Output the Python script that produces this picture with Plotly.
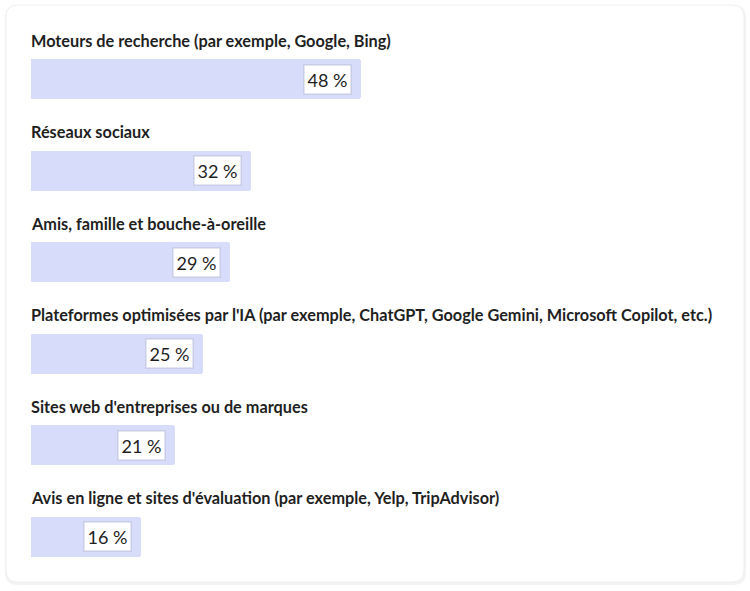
import plotly.graph_objects as go

categories = [
    "Moteurs de recherche (par exemple, Google, Bing)",
    "Réseaux sociaux",
    "Amis, famille et bouche-à-oreille",
    "Plateformes optimisées par l'IA (par exemple, ChatGPT, Google Gemini, Microsoft Copilot, etc.)",
    "Sites web d'entreprises ou de marques",
    "Avis en ligne et sites d'évaluation (par exemple, Yelp, TripAdvisor)",
]
values = [48, 32, 29, 25, 21, 16]
value_labels = [f"{v} %" for v in values]

W, H = 750, 591
FONT = "Lato"
TXT = "#1f1f1f"
BAR = "#d6dcfa"

ypos = list(range(len(categories)))

fig = go.Figure()
fig.add_trace(go.Bar(
    x=values, y=ypos, orientation="h",
    marker=dict(color=BAR, line=dict(width=0), cornerradius=3),
    width=0.437, hoverinfo="skip", showlegend=False,
))

annotations = []
for i, (c, v, lab) in enumerate(zip(categories, values, value_labels)):
    annotations.append(dict(
        x=31 / W, xref="paper", y=i, yref="y", yshift=39, xshift=-2,
        text=c, showarrow=False, xanchor="left", yanchor="middle",
        font=dict(family=FONT, size=16.3, color=TXT, weight=700),
    ))
    annotations.append(dict(
        x=v, xref="x", y=i, yref="y", xshift=-9,
        text=lab, showarrow=False, xanchor="right", yanchor="middle",
        font=dict(family=FONT, size=18, color=TXT),
        bgcolor="white", bordercolor="#c9cde6", borderwidth=1.5, borderpad=3,
    ))


def rrect(x0, y0, x1, y1, r):
    # pixel coords -> paper
    def P(x, y):
        return f"{x / W:.5f},{1 - y / H:.5f}"
    return (f"M {P(x0 + r, y0)} L {P(x1 - r, y0)} Q {P(x1, y0)} {P(x1, y0 + r)} "
            f"L {P(x1, y1 - r)} Q {P(x1, y1)} {P(x1 - r, y1)} L {P(x0 + r, y1)} "
            f"Q {P(x0, y1)} {P(x0, y1 - r)} L {P(x0, y0 + r)} Q {P(x0, y0)} {P(x0 + r, y0)} Z")

shapes = [
    dict(type="path", xref="paper", yref="paper", path=rrect(5, 5, 746, 585, 13),
         fillcolor="#f3f3f3", line=dict(width=0), layer="below"),
    dict(type="path", xref="paper", yref="paper", path=rrect(6, 5, 744, 582, 12),
         fillcolor="white", line=dict(color="#efefef", width=1), layer="below"),
]

fig.update_layout(
    width=W, height=H,
    margin=dict(l=0, r=0, t=0, b=0),
    paper_bgcolor="white", plot_bgcolor="rgba(0,0,0,0)",
    xaxis=dict(domain=[31 / W, 718.5 / W], range=[0, 100], visible=False, fixedrange=True),
    yaxis=dict(range=[5.5896, -0.8624], visible=False, fixedrange=True),
    annotations=annotations, shapes=shapes,
    bargap=0,
)

fig.write_html("out.html", config={"displayModeBar": False})
